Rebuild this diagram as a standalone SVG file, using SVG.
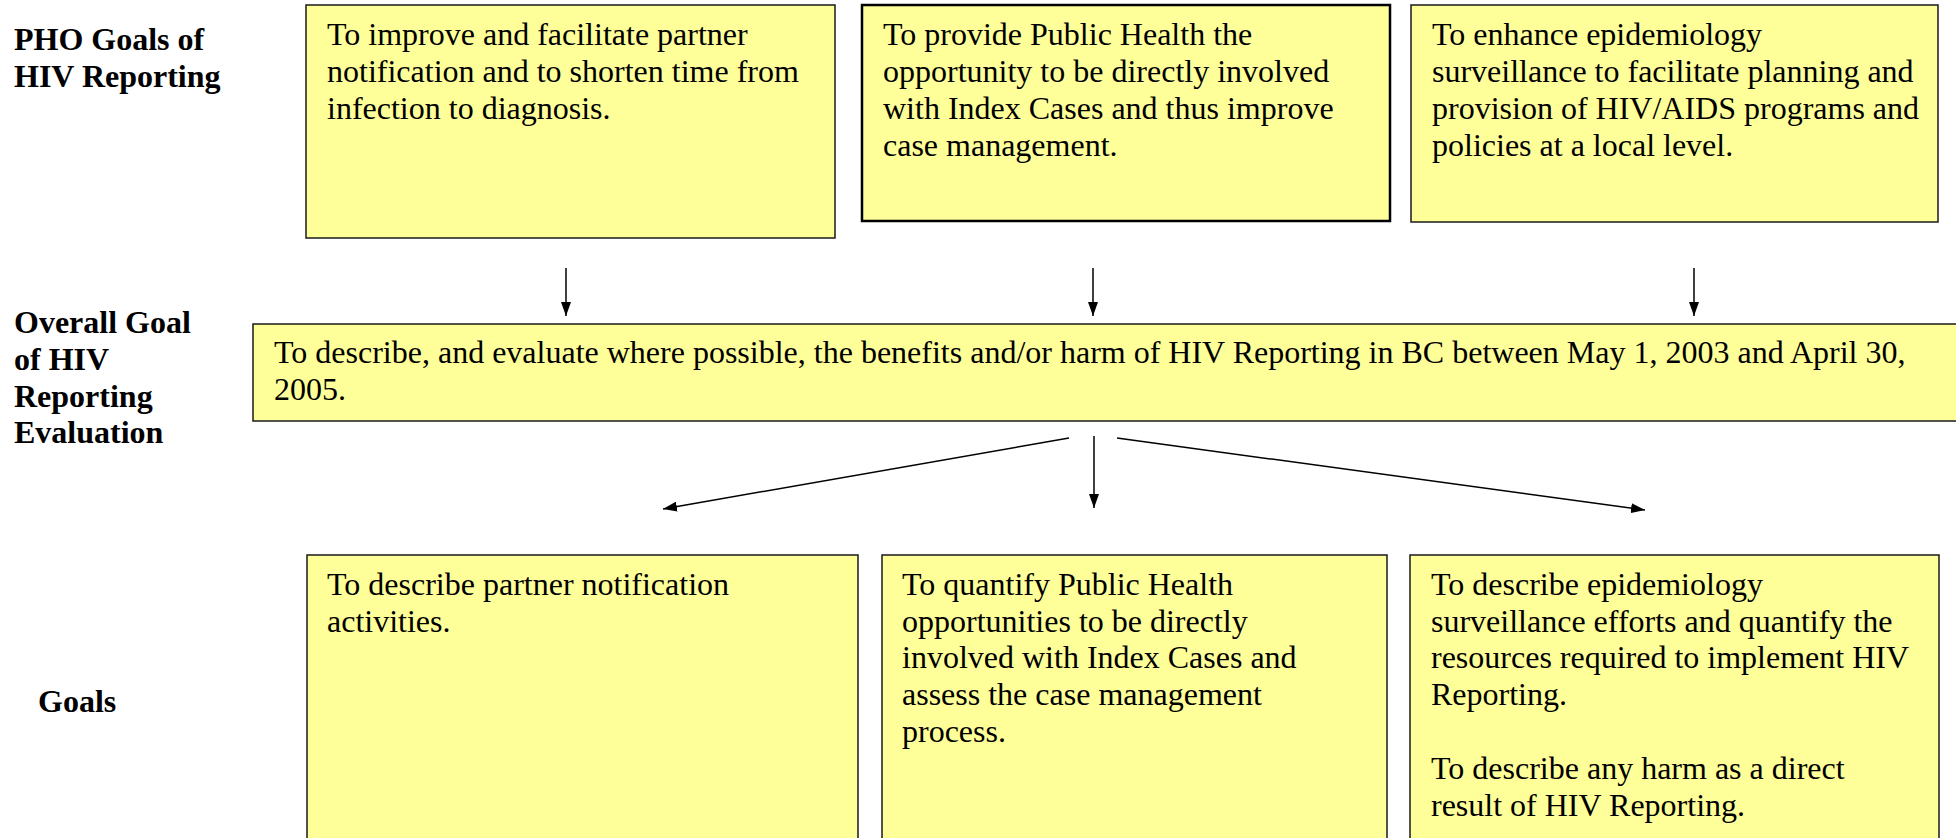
<svg xmlns="http://www.w3.org/2000/svg" width="1956" height="838" viewBox="0 0 1956 838">
<style>
.box{fill:#FFFF99;stroke:#1a1a1a;stroke-width:1.5}
.bt{font-family:"Liberation Serif","Times New Roman",serif;font-size:32px;fill:#000}
.lb{font-family:"Liberation Serif","Times New Roman",serif;font-size:32px;font-weight:bold;fill:#000}
.cn{stroke:#000;stroke-width:1.5;fill:none;marker-end:url(#ah)}
</style>
<defs>
<marker id="ah" viewBox="0 0 14 10" refX="14" refY="5" markerWidth="14" markerHeight="10" markerUnits="userSpaceOnUse" orient="auto">
<path d="M0,0 L14,5 L0,10 Z" fill="#000"/>
</marker>
</defs>
<rect width="1956" height="838" fill="#fff"/>
<g id="labels">
<text class="lb" x="14" y="50">PHO Goals of</text>
<text class="lb" x="14" y="87">HIV Reporting</text>
<text class="lb" x="14" y="333">Overall Goal</text>
<text class="lb" x="14" y="370">of HIV</text>
<text class="lb" x="14" y="407">Reporting</text>
<text class="lb" x="14" y="443">Evaluation</text>
<text class="lb" x="38" y="712">Goals</text>
</g>
<g id="pho1">
<rect class="box" x="306" y="5" width="529" height="233"/>
<text class="bt" x="327" y="44.5">To improve and facilitate partner</text>
<text class="bt" x="327" y="81.7">notification and to shorten time from</text>
<text class="bt" x="327" y="118.9">infection to diagnosis.</text>
</g>
<g id="pho2">
<rect class="box" x="862" y="5" width="528" height="216" style="stroke:#000;stroke-width:2.5"/>
<text class="bt" x="883" y="44.5">To provide Public Health the</text>
<text class="bt" x="883" y="81.7">opportunity to be directly involved</text>
<text class="bt" x="883" y="118.9">with Index Cases and thus improve</text>
<text class="bt" x="883" y="156.1">case management.</text>
</g>
<g id="pho3">
<rect class="box" x="1411" y="5" width="527" height="217"/>
<text class="bt" x="1432" y="44.5">To enhance epidemiology</text>
<text class="bt" x="1432" y="81.7">surveillance to facilitate planning and</text>
<text class="bt" x="1432" y="118.9">provision of HIV/AIDS programs and</text>
<text class="bt" x="1432" y="156.1">policies at a local level.</text>
</g>
<g id="overall">
<rect class="box" x="253" y="324" width="1720" height="97"/>
<text class="bt" x="274" y="363">To describe, and evaluate where possible, the benefits and/or harm of HIV Reporting in BC between May 1, 2003 and April 30,</text>
<text class="bt" x="274" y="400">2005.</text>
</g>
<g id="goal1">
<rect class="box" x="307" y="555" width="551" height="300"/>
<text class="bt" x="327" y="595">To describe partner notification</text>
<text class="bt" x="327" y="631.7">activities.</text>
</g>
<g id="goal2">
<rect class="box" x="882" y="555" width="505" height="300"/>
<text class="bt" x="902" y="595">To quantify Public Health</text>
<text class="bt" x="902" y="631.7">opportunities to be directly</text>
<text class="bt" x="902" y="668.4">involved with Index Cases and</text>
<text class="bt" x="902" y="705.1">assess the case management</text>
<text class="bt" x="902" y="741.8">process.</text>
</g>
<g id="goal3">
<rect class="box" x="1410" y="555" width="529" height="300"/>
<text class="bt" x="1431" y="595">To describe epidemiology</text>
<text class="bt" x="1431" y="631.7">surveillance efforts and quantify the</text>
<text class="bt" x="1431" y="668.4">resources required to implement HIV</text>
<text class="bt" x="1431" y="705.1">Reporting.</text>
<text class="bt" x="1431" y="779">To describe any harm as a direct</text>
<text class="bt" x="1431" y="815.8">result of HIV Reporting.</text>
</g>
<g id="connectors">
<line class="cn" x1="566" y1="268" x2="566" y2="316"/>
<line class="cn" x1="1093" y1="268" x2="1093" y2="316"/>
<line class="cn" x1="1694" y1="268" x2="1694" y2="316"/>
<line class="cn" x1="1069" y1="438" x2="663" y2="509"/>
<line class="cn" x1="1094" y1="436" x2="1094" y2="508"/>
<line class="cn" x1="1117" y1="438" x2="1645" y2="510"/>
</g>
</svg>
